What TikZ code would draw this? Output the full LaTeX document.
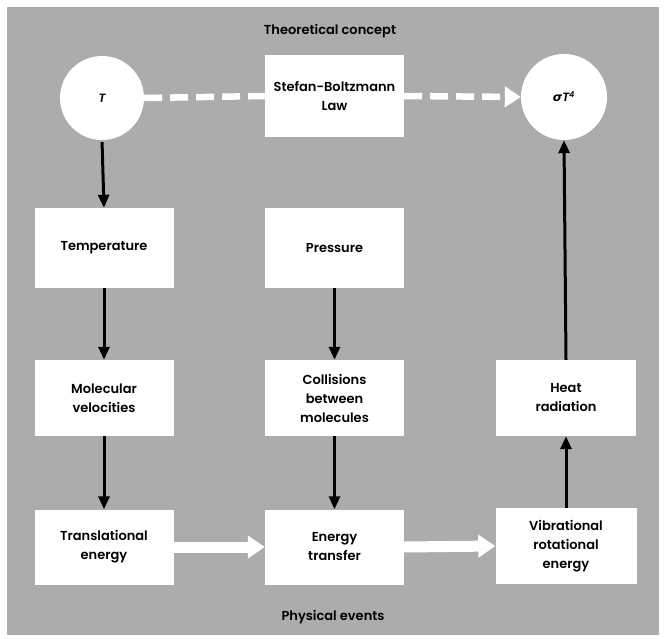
\documentclass[tikz,border=0pt]{standalone}
\usepackage{fontspec}
\setmainfont{Poppins}[BoldFont={Poppins SemiBold},BoldItalicFont={Poppins SemiBold Italic}]
\newfontfamily\dejavu{DejaVu Sans}
\usetikzlibrary{arrows.meta,shapes.geometric}
\definecolor{bg}{RGB}{172,172,172}
\begin{document}
\begin{tikzpicture}[x=1pt,y=-1pt,
  box/.style={fill=white, draw=none, minimum width=139pt, align=center, inner sep=0pt,
    font=\fontsize{13}{19}\selectfont\bfseries},
  circ/.style={circle, fill=white, draw=none, minimum size=84pt, inner sep=0pt,
    font=\fontsize{12}{14}\selectfont\bfseries},
  lbl/.style={font=\fontsize{13}{16}\selectfont\bfseries, inner sep=0pt},
  blackarrow/.style={black, line width=3pt, -{Triangle[length=13pt,width=11pt]}},
  whitearrow/.style={white, line width=11pt, -{Triangle[length=17pt,width=22pt]}},
  dasharrow/.style={white, line width=6.5pt, dash pattern=on 18pt off 8pt},
  dashtip/.style={-{Triangle[length=16pt,width=20pt]}}
]
\useasboundingbox (0,0) rectangle (664,638);
\fill[bg] (7,7) rectangle (659,635);

\node[lbl] (title) at (330,31) {Theoretical concept};
\node[lbl] (phys) at (333,617) {Physical events};

\node[circ] (T) at (102,98) {\itshape T};
\node[box, minimum height=82pt] (sb) at (334.5,96) {Stefan-Boltzmann\\Law};
\node[circ, minimum size=86pt] (sig) at (564,97) {{\dejavu\itshape σ}\itshape T\textsuperscript{4}};

\node[box, minimum height=80pt] (temp) at (104,248) {Temperature};
\node[box, minimum height=80pt] (pres) at (334.5,248) {Pressure};

\node[box, minimum height=76pt] (mol) at (104,398) {Molecular\\velocities};
\node[box, minimum height=76pt] (coll) at (334.5,398) {Collisions\\between\\molecules};
\node[box, minimum height=76pt, minimum width=140pt] (heat) at (566,398) {Heat\\radiation};

\node[box, minimum height=75pt] (trans) at (104,547) {Translational\\energy};
\node[box, minimum height=75pt] (etr) at (334.5,547) {Energy\\transfer};
\node[box, minimum height=76pt, minimum width=141pt] (vib) at (566,546) {Vibrational\\rotational\\energy};

% dashed white arrows
\draw[dasharrow] (T.east) -- (sb.west);
\draw[dasharrow, dashtip] (sb.east) -- (sig.west);

% black arrows
\draw[blackarrow, shorten <=2pt] (T.south) -- (temp.north);
\draw[blackarrow] (temp.south) -- (mol.north);
\draw[blackarrow] (mol.south) -- (trans.north);
\draw[blackarrow] (pres.south) -- (coll.north);
\draw[blackarrow] (coll.south) -- (etr.north);
\draw[blackarrow] (vib.north) -- (heat.south);
\draw[blackarrow] (heat.north) -- (sig.south);

% white solid arrows
\draw[whitearrow] (trans.east) -- (etr.west);
\draw[whitearrow] (etr.east) -- (vib.west);
\end{tikzpicture}
\end{document}
